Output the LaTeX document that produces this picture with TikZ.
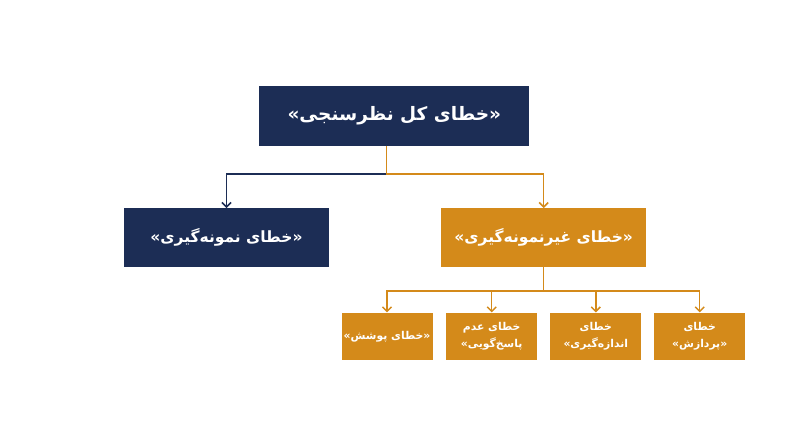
\documentclass[tikz,border=0pt]{standalone}
\usepackage{fontspec}
\usepackage{xcolor}
\usepackage{tikz}
\usetikzlibrary{arrows.meta}
\TeXXeTstate=1
\newfontfamily\arabicfont[Script=Arabic]{DejaVu Sans}
\definecolor{navy}{RGB}{28,45,85}
\definecolor{gold}{RGB}{212,138,26}

\begin{document}
\begin{tikzpicture}[x=1pt,y=-1pt,>={Straight Barb[length=4.5pt,width=9pt]},
	main node/.style={rectangle, fill=navy, text=white, minimum width=205pt, minimum height=58.5pt, inner sep=0pt, font=\arabicfont\bfseries\fontsize{15.5}{19}\selectfont},
	gold node/.style={main node, fill=gold},
	sub node/.style={rectangle, fill=gold, text=white, minimum width=91pt, minimum height=47.3pt, inner sep=0pt, align=center, font=\arabicfont\bfseries\fontsize{10.8}{17}\selectfont},
	navy line/.style={navy, line width=1.5pt},
	gold line/.style={gold, line width=1.5pt}]
	\fill[white] (0,0) rectangle (800,447);
	\useasboundingbox (0,0) rectangle (800,447);
	% Nodes
	\node[main node, minimum width=270pt, minimum height=59.7pt, font=\arabicfont\bfseries\fontsize{18.5}{22}\selectfont] (1) at (394.3,116) {\beginR«خطای کل نظرسنجی»\endR};
	\node[main node] (2) at (226.5,237.5) {\beginR«خطای نمونه^^^^200cگیری»\endR};
	\node[gold node] (3) at (543.7,237.5) {\beginR«خطای غیرنمونه^^^^200cگیری»\endR};
	
	\node[sub node] (4) at (387,336.3) {\beginR«خطای پوشش»\endR};
	\node[sub node] (5) at (491.7,336.3) {\beginR خطای عدم\endR\\\beginR پاسخ^^^^200cگویی»\endR};
	\node[sub node] (6) at (595.8,336.3) {\beginR خطای\endR\\\beginR اندازه^^^^200cگیری»\endR};
	\node[sub node] (7) at (699.7,336.3) {\beginR خطای\endR\\\beginR«پردازش»\endR};
	
	% Connectors
	\coordinate (s1) at (386.7,174);
	\coordinate (s2) at (543.7,291);
	\draw[navy line, ->] (s1) -| (2.north);
	\draw[gold line, ->] (s1 |- 1.south) -- (s1) -| (3.north);
	
	\draw[gold line] (3.south) -- (s2);
	\foreach \n in {4,...,7}
		\draw[gold line, ->] (s2) -| (\n.north);
	
\end{tikzpicture}
\end{document}
